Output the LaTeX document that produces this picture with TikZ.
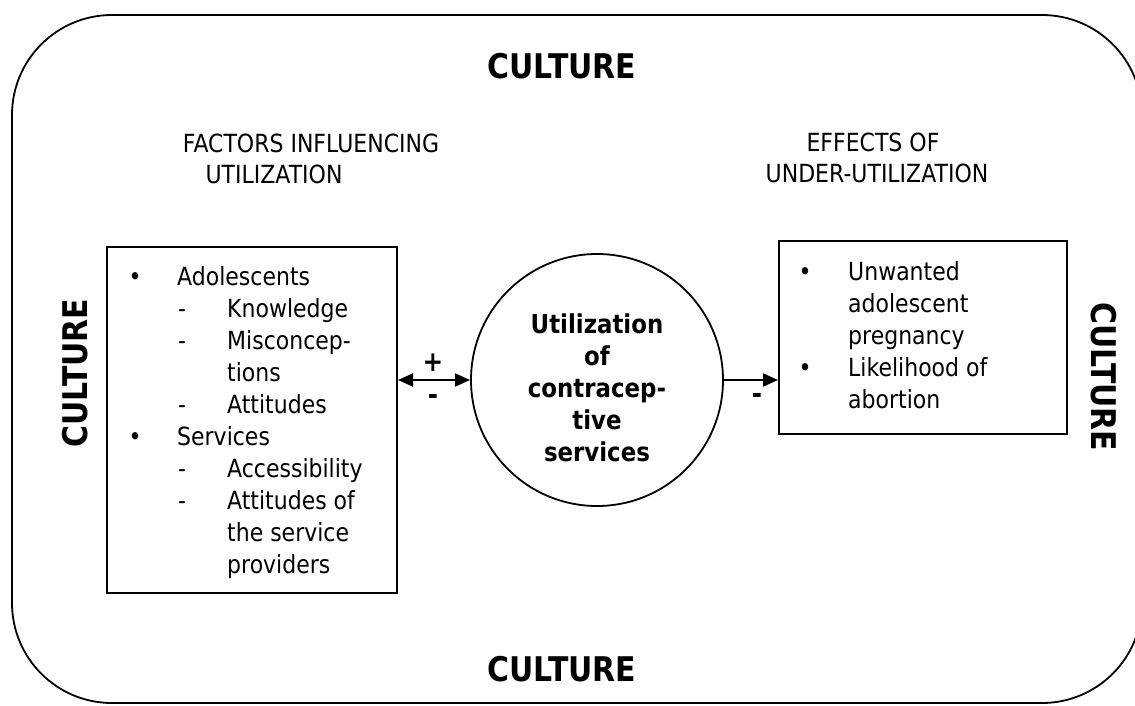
\documentclass[tikz,border=0pt]{standalone}
\usepackage{fontspec}
\setmainfont{DejaVu Sans}[FakeStretch=0.88]
\usetikzlibrary{arrows.meta}
\begin{document}
\begin{tikzpicture}[x=1pt,y=-1pt,
  >={Triangle[length=15pt,width=13pt]},
  frame/.style={line width=1.8pt},
  panel/.style={draw, line width=2pt, rectangle, inner sep=0pt},
  hub/.style={draw, circle, line width=1.8pt, inner sep=0pt, minimum size=252pt},
  heading/.style={inner sep=0pt, anchor=base, font=\fontsize{25}{31}\selectfont},
  culture/.style={inner sep=0pt, font=\fontsize{34}{40}\selectfont\bfseries},
  listtext/.style={inner sep=0pt, anchor=base west, font=\fontsize{25}{32}\selectfont},
  hubtext/.style={inner sep=0pt, anchor=base, font=\fontsize{26}{32}\selectfont\bfseries},
  sign/.style={inner sep=0pt, font=\fontsize{28}{30}\selectfont\bfseries},
  link/.style={line width=2pt},
]
\useasboundingbox (0,0) rectangle (1135,705);
\fill[white] (0,0) rectangle (1135,705);

% outer rounded frame (its right side runs just past the page edge)
\draw[frame, rounded corners=100pt] (12,15) rectangle (1142,703);

% CULTURE on all four sides
\node[culture] (ctop) at (562,66) {CULTURE};
\node[culture] (cbottom) at (562,669) {CULTURE};
\node[culture, rotate=90] (cleft) at (75,373) {CULTURE};
\node[culture, rotate=-90] (cright) at (1104,377) {CULTURE};

% column headings
\node[heading] (hleft1) at (311,152) {FACTORS INFLUENCING};
\node[heading] (hleft2) at (274,183) {UTILIZATION};
\node[heading] (hright1) at (873,151) {EFFECTS OF};
\node[heading] (hright2) at (877,182) {UNDER-UTILIZATION};

% boxes and the central circle
\node[panel, minimum width=290pt, minimum height=346pt] (fbox) at (252,420) {};
\node[panel, minimum width=288pt, minimum height=193pt] (ebox) at (923,337.5) {};
\node[hub] (hub) at (597,380) {};

% factor list
\newcommand\dsh{\makebox[50pt][l]{\hspace{1pt}-}}
\node[listtext] (flist) at (127,285)
  {\begin{tabular}[t]{@{}p{50pt}@{}l@{}}
   \hspace{1.5pt}\textbullet & Adolescents\\
    & \dsh Knowledge\\
    & \dsh Misconcep-\\
    & \hspace{50pt}tions\\
    & \dsh Attitudes\\
   \hspace{1.5pt}\textbullet & Services\\
    & \dsh Accessibility\\
    & \dsh Attitudes of\\
    & \hspace{50pt}the service\\
    & \hspace{50pt}providers
  \end{tabular}};

% effects list
\node[listtext] (elist) at (797,280)
  {\begin{tabular}[t]{@{}p{51pt}@{}l@{}}
   \hspace{1.5pt}\textbullet & Unwanted\\
    & adolescent\\
    & pregnancy\\
   \hspace{1.5pt}\textbullet & Likelihood of\\
    & abortion
  \end{tabular}};

% circle label
\node[hubtext] (hublabel) at (597,333)
  {\begin{tabular}[t]{@{}c@{}}Utilization\\of\\contracep-\\tive\\services\end{tabular}};

% connectors with their signs
\draw[link, <->] (fbox.east |- hub.center) -- (hub.west);
\draw[link, ->] (hub.east) -- (ebox.west |- hub.center);
\node[sign] (plus) at (433,363) {+};
\node[sign] (minusl) at (433,399) {-};
\node[sign] (minusr) at (757,398) {-};
\end{tikzpicture}
\end{document}
